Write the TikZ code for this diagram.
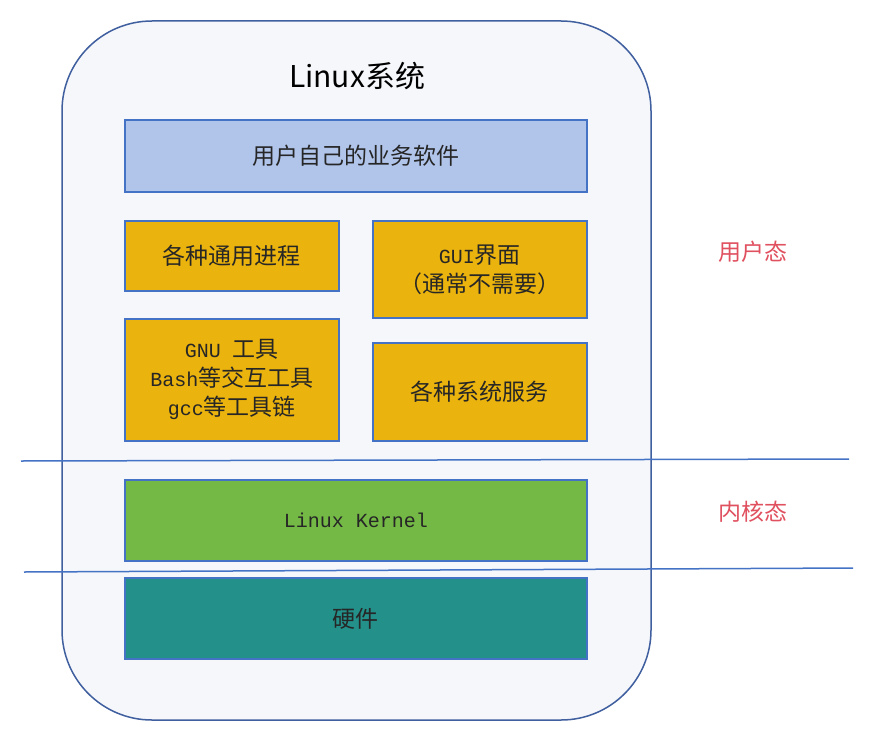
\documentclass[tikz,border=0pt]{standalone}
\usepackage{fontspec}
\setmainfont{Liberation Serif}
\newfontfamily\cjk{Noto Sans CJK SC}
\newfontfamily\mono{Liberation Mono}
\definecolor{outerfill}{HTML}{F5F7FB}
\definecolor{outerdraw}{HTML}{3F5F9F}
\definecolor{boxdraw}{HTML}{4472C4}
\definecolor{bluefill}{HTML}{B1C5EB}
\definecolor{yellowfill}{HTML}{EBB30D}
\definecolor{greenfill}{HTML}{74B946}
\definecolor{tealfill}{HTML}{23908A}
\definecolor{redtext}{HTML}{E0505F}
\newcommand{\lat}[1]{{\mono\fontsize{20}{29}\selectfont #1}}
\tikzset{
  layerbox/.style={draw=boxdraw, line width=1.8pt, inner sep=0pt, anchor=north west,
    align=center, font=\cjk\fontsize{23}{29}\selectfont, text=black!85},
  modelabel/.style={text=redtext, font=\cjk\fontsize{23}{26}\selectfont},
  sepline/.style={draw=boxdraw, line width=1.5pt},
}
\begin{document}
\begin{tikzpicture}[x=1pt,y=-1pt]
\useasboundingbox (0,0) rectangle (869,733);
\fill[white] (0,0) rectangle (869,733);
\draw[outerdraw, fill=outerfill, line width=1.5pt, rounded corners=90pt] (62,21) rectangle (651,720);
\node[font=\cjk\fontsize{30}{34}\selectfont] (title) at (357,76) {Linux系统};
\node[layerbox, fill=bluefill, minimum width=462pt, minimum height=72pt] (app) at (124,119) {用户自己的业务软件};
\node[layerbox, fill=yellowfill, minimum width=214pt, minimum height=70pt] (proc) at (124,220) {各种通用进程};
\node[layerbox, fill=yellowfill, minimum width=214pt, minimum height=97pt] (gui) at (372,220) {\lat{GUI}界面\\（通常不需要）};
\node[layerbox, fill=yellowfill, minimum width=214pt, minimum height=122pt] (gnu) at (124,318) {\lat{GNU }工具\\\lat{Bash}等交互工具\\\lat{gcc}等工具链};
\node[layerbox, fill=yellowfill, minimum width=214pt, minimum height=98pt] (svc) at (372,342) {各种系统服务};
\node[layerbox, fill=greenfill, minimum width=462pt, minimum height=81pt, font=\mono\fontsize{20}{24}\selectfont] (kernel) at (124,479) {Linux Kernel};
\node[layerbox, fill=tealfill, minimum width=462pt, minimum height=81pt] (hw) at (124,577) {硬件};
\coordinate (l1a) at (21,461);
\coordinate (l1b) at (849,459);
\coordinate (l2a) at (24,572);
\coordinate (l2b) at (853,568);
\draw[sepline] (l1a) -- (l1b);
\draw[sepline] (l2a) -- (l2b);
\node[modelabel] (user) at (753,252) {用户态};
\node[modelabel] (kern) at (753,512) {内核态};
\end{tikzpicture}
\end{document}
